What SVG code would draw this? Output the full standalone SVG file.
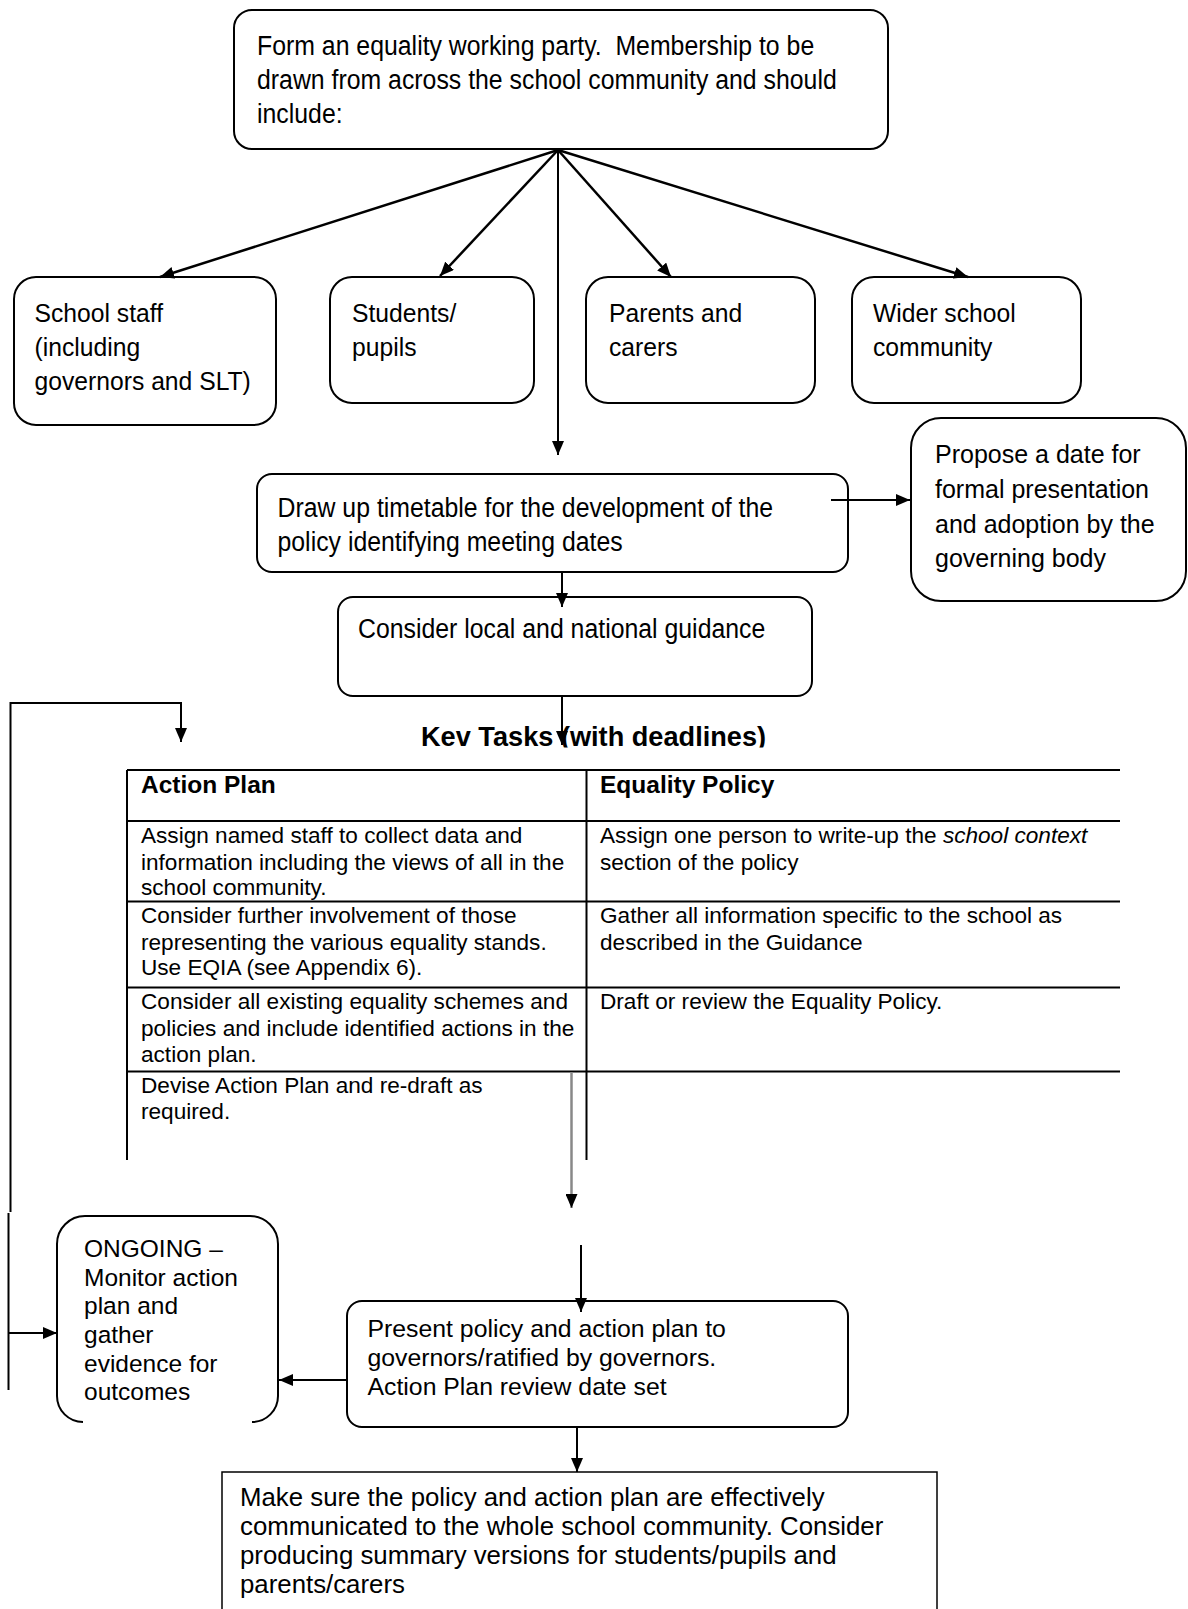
<svg xmlns="http://www.w3.org/2000/svg" width="1188" height="1609" viewBox="0 0 1188 1609">
<defs>
<style>
.box{fill:#fff;stroke:#000;stroke-width:2}
.t{font-family:"Liberation Sans",Arial,sans-serif;fill:#000}
.ln{fill:none;stroke:#000;stroke-width:2}
.fan{fill:none;stroke:#000;stroke-width:2.5}
.tb{fill:none;stroke:#000;stroke-width:2}
</style>
<marker id="ah" markerUnits="userSpaceOnUse" markerWidth="14" markerHeight="12" refX="14" refY="6" orient="auto">
<path d="M0,0 L14,6 L0,12 z" fill="#000"/>
</marker>
<clipPath id="kclip"><rect x="0" y="700" width="1188" height="47.5"/></clipPath>
</defs>
<rect width="1188" height="1609" fill="#fff"/>

<g id="n-top">
<rect class="box" x="234" y="10" width="654" height="139" rx="18"/>
<text class="t" font-size="27" xml:space="preserve" transform="translate(257 0) scale(0.92 1)"><tspan x="0" y="55">Form an equality working party.  Membership to be</tspan><tspan x="0" y="89">drawn from across the school community and should</tspan><tspan x="0" y="123">include:</tspan></text>
</g>

<g id="n-staff">
<rect class="box" x="14" y="277" width="262" height="148" rx="22"/>
<text class="t" font-size="26" transform="translate(34.5 0) scale(0.95 1)"><tspan x="0" y="322">School staff</tspan><tspan x="0" y="356">(including</tspan><tspan x="0" y="390">governors and SLT)</tspan></text>
</g>

<g id="n-students">
<rect class="box" x="330" y="277" width="204" height="126" rx="22"/>
<text class="t" font-size="26" transform="translate(352 0) scale(0.95 1)"><tspan x="0" y="322">Students/</tspan><tspan x="0" y="356">pupils</tspan></text>
</g>

<g id="n-parents">
<rect class="box" x="586" y="277" width="229" height="126" rx="22"/>
<text class="t" font-size="26" transform="translate(609 0) scale(0.95 1)"><tspan x="0" y="322">Parents and</tspan><tspan x="0" y="356">carers</tspan></text>
</g>

<g id="n-wider">
<rect class="box" x="852" y="277" width="229" height="126" rx="22"/>
<text class="t" font-size="26" transform="translate(873 0) scale(0.95 1)"><tspan x="0" y="322">Wider school</tspan><tspan x="0" y="356">community</tspan></text>
</g>

<g id="n-timetable">
<rect class="box" x="257" y="474" width="591" height="98" rx="15"/>
<text class="t" font-size="27" transform="translate(277.5 0) scale(0.92 1)"><tspan x="0" y="517">Draw up timetable for the development of the</tspan><tspan x="0" y="551">policy identifying meeting dates</tspan></text>
</g>

<g id="n-propose">
<rect class="box" x="911" y="418" width="275" height="183" rx="30"/>
<text class="t" font-size="25"><tspan x="935" y="463">Propose a date for</tspan><tspan x="935" y="498">formal presentation</tspan><tspan x="935" y="533">and adoption by the</tspan><tspan x="935" y="567">governing body</tspan></text>
</g>

<g id="n-guidance">
<rect class="box" x="338" y="597" width="474" height="99" rx="15"/>
<text class="t" font-size="27" transform="translate(358 0) scale(0.92 1)"><tspan x="0" y="638">Consider local and national guidance</tspan></text>
</g>

<g id="n-keytasks">
<text class="t" font-size="28" font-weight="bold" clip-path="url(#kclip)" transform="translate(421 0) scale(0.97 1)"><tspan x="0" y="746">Kev Tasks (with deadlines)</tspan></text>
</g>

<g id="n-table">
<line class="tb" x1="127" y1="770" x2="1120" y2="770"/>
<line class="tb" x1="127" y1="821" x2="1120" y2="821"/>
<line class="tb" x1="127" y1="901.5" x2="1120" y2="901.5"/>
<line class="tb" x1="127" y1="987.5" x2="1120" y2="987.5"/>
<line class="tb" x1="127" y1="1071.5" x2="1120" y2="1071.5"/>
<line class="tb" x1="127" y1="770" x2="127" y2="1160"/>
<line class="tb" x1="586.5" y1="770" x2="586.5" y2="1160"/>
<text class="t" font-size="24.5" font-weight="bold"><tspan x="141" y="793">Action Plan</tspan><tspan x="600" y="793">Equality Policy</tspan></text>
<text class="t" font-size="22.6">
<tspan x="141" y="843">Assign named staff to collect data and</tspan>
<tspan x="141" y="870">information including the views of all in the</tspan>
<tspan x="141" y="895">school community.</tspan>
<tspan x="600" y="843">Assign one person to write-up the <tspan font-style="italic">school context</tspan></tspan>
<tspan x="600" y="870">section of the policy</tspan>
<tspan x="141" y="922.5">Consider further involvement of those</tspan>
<tspan x="141" y="949.5">representing the various equality stands.</tspan>
<tspan x="141" y="975">Use EQIA (see Appendix 6).</tspan>
<tspan x="600" y="922.5">Gather all information specific to the school as</tspan>
<tspan x="600" y="949.5">described in the Guidance</tspan>
<tspan x="141" y="1009">Consider all existing equality schemes and</tspan>
<tspan x="141" y="1036">policies and include identified actions in the</tspan>
<tspan x="141" y="1062">action plan.</tspan>
<tspan x="600" y="1009">Draft or review the Equality Policy.</tspan>
<tspan x="141" y="1093">Devise Action Plan and re-draft as</tspan>
<tspan x="141" y="1119">required.</tspan>
</text>
</g>

<g id="n-ongoing">
<path class="box" d="M83,1422 A26,26 0 0 1 57,1396 L57,1244 A28,28 0 0 1 85,1216 L250,1216 A28,28 0 0 1 278,1244 L278,1396 A26,26 0 0 1 252,1422"/>
<text class="t" font-size="24.5"><tspan x="84" y="1257">ONGOING –</tspan><tspan x="84" y="1286">Monitor action</tspan><tspan x="84" y="1314">plan and</tspan><tspan x="84" y="1343">gather</tspan><tspan x="84" y="1372">evidence for</tspan><tspan x="84" y="1400">outcomes</tspan></text>
</g>

<g id="n-present">
<rect class="box" x="347" y="1301" width="501" height="126" rx="15"/>
<text class="t" font-size="24.8"><tspan x="367.5" y="1337">Present policy and action plan to</tspan><tspan x="367.5" y="1366">governors/ratified by governors.</tspan><tspan x="367.5" y="1395">Action Plan review date set</tspan></text>
</g>

<g id="n-communicate">
<rect fill="#fff" stroke="#000" stroke-width="1.5" x="222" y="1472" width="715" height="160"/>
<text class="t" font-size="25.8"><tspan x="240" y="1506">Make sure the policy and action plan are effectively</tspan><tspan x="240" y="1535">communicated to the whole school community. Consider</tspan><tspan x="240" y="1564">producing summary versions for students/pupils and</tspan><tspan x="240" y="1593">parents/carers</tspan></text>
</g>

<g id="connectors">
<line class="fan" x1="558" y1="150" x2="160" y2="277" marker-end="url(#ah)"/>
<line class="fan" x1="558" y1="150" x2="440" y2="276" marker-end="url(#ah)"/>
<line class="fan" x1="558" y1="150" x2="671" y2="277" marker-end="url(#ah)"/>
<line class="fan" x1="558" y1="150" x2="968" y2="277" marker-end="url(#ah)"/>
<line class="ln" x1="558" y1="150" x2="558" y2="455" marker-end="url(#ah)"/>
<line class="ln" x1="831" y1="500" x2="910" y2="500" marker-end="url(#ah)"/>
<line class="ln" x1="562" y1="573" x2="562" y2="607" marker-end="url(#ah)"/>
<line class="ln" x1="562" y1="696" x2="562" y2="745" marker-end="url(#ah)"/>
<polyline class="ln" points="10.5,1212 10.5,703 181,703 181,742" marker-end="url(#ah)"/>
<line class="ln" x1="8.5" y1="1213" x2="8.5" y2="1390"/>
<line class="ln" x1="8.5" y1="1333" x2="57" y2="1333" marker-end="url(#ah)"/>
<line fill="none" stroke="#888" stroke-width="2.5" x1="571.5" y1="1072" x2="571.5" y2="1208" marker-end="url(#ah)"/>
<line class="ln" x1="581" y1="1245" x2="581" y2="1312" marker-end="url(#ah)"/>
<line class="ln" x1="347" y1="1380" x2="279" y2="1380" marker-end="url(#ah)"/>
<line class="ln" x1="577" y1="1427" x2="577" y2="1472" marker-end="url(#ah)"/>
</g>
</svg>
